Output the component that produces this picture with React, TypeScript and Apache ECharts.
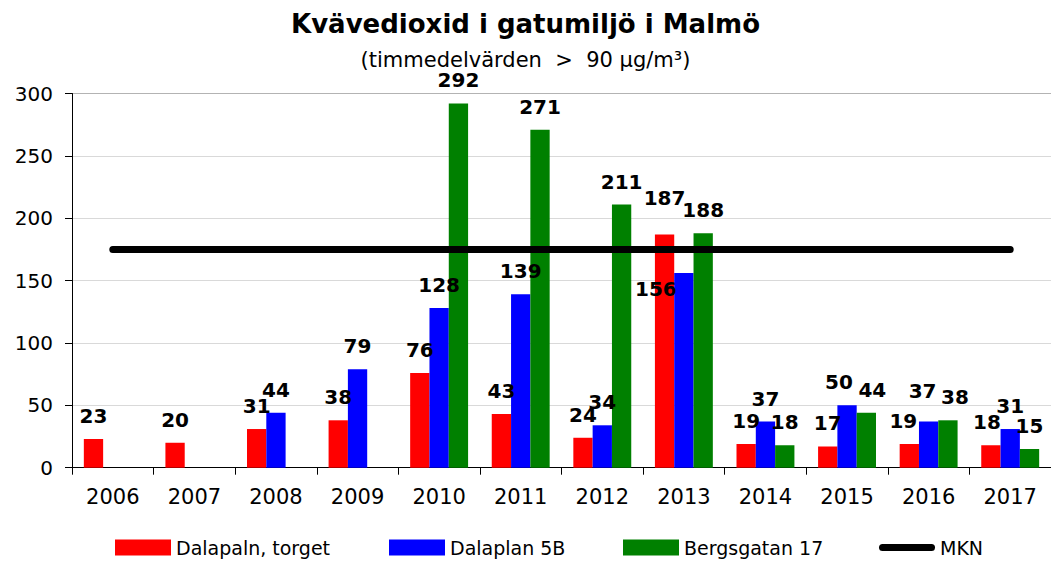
import React, { useEffect, useRef } from "react";
import * as echarts from "echarts";

const years = ["2006", "2007", "2008", "2009", "2010", "2011", "2012", "2013", "2014", "2015", "2016", "2017"];
const dalaplanTorget = [23, 20, 31, 38, 76, 43, 24, 187, 19, 17, 19, 18];
const dalaplan5B: (number | string)[] = ["-", "-", 44, 79, 128, 139, 34, 156, 37, 50, 37, 31];
const bergsgatan17: (number | string)[] = ["-", "-", "-", "-", 292, 271, 211, 188, 18, 44, 38, 15];
const mkn = [175, 175, 175, 175, 175, 175, 175, 175, 175, 175, 175, 175];

// label nudges [dx, dy] for a few labels moved in the original
const redShift: Record<number, [number, number]> = { 7: [0, -13], 10: [-6, 0], 11: [-4, 0] };
const blueShift: Record<number, [number, number]> = { 7: [-28, 39], 9: [-8, 0], 10: [-6, -8] };
const greenShift: Record<number, [number, number]> = { 9: [6, 0], 10: [7, 0] };

const FONT = "DejaVu Sans";

function withShifts(values: (number | string)[], shifts: Record<number, [number, number]>) {
  return values.map((v, i) =>
    shifts[i] ? { value: v, label: { offset: shifts[i] } } : v
  );
}

export default function App() {
  const ref = useRef<HTMLDivElement>(null);
  useEffect(() => {
    if (!ref.current) return;
    const chart = echarts.init(ref.current, undefined, { renderer: "svg" });
    const barLabel = {
      show: true,
      position: "top",
      distance: 15,
      color: "#000",
      fontFamily: FONT,
      fontWeight: "bold",
      fontSize: 20,
      lineHeight: 16,
    };
    const legendBase = {
      top: 538,
      padding: 0,
      itemWidth: 56,
      itemHeight: 16,
      icon: "rect",
      textStyle: { fontFamily: FONT, fontSize: 19, color: "#000" },
      selectedMode: false,
    };
    chart.setOption({
      animation: false,
      backgroundColor: "#fff",
      title: [
        {
          text: "Kvävedioxid i gatumiljö i Malmö",
          left: "center",
          top: 11,
          padding: 0,
          textStyle: { fontFamily: FONT, fontWeight: "bold", fontSize: 26, color: "#000" },
        },
        {
          text: "(timmedelvärden  >  90 µg/m³)",
          left: "center",
          top: 51,
          padding: 0,
          textStyle: { fontFamily: FONT, fontWeight: "normal", fontSize: 21, lineHeight: 17, color: "#000" },
        },
      ],
      legend: [
        { ...legendBase, left: 115, data: ["Dalapaln, torget"] },
        { ...legendBase, left: 389, data: ["Dalaplan 5B"] },
        { ...legendBase, left: 623, data: ["Bergsgatan 17"] },
        {
          ...legendBase,
          left: 879,
          itemHeight: 7,
          data: [
            {
              name: "MKN",
              icon: "path://M3.5,0 L52.5,0 A3.5,3.5 0 0 1 52.5,7 L3.5,7 A3.5,3.5 0 0 1 3.5,0 Z",
            },
          ],
        },
      ],
      grid: { left: 72, right: -3, top: 93.5, bottom: 93.3, containLabel: false },
      xAxis: {
        type: "category",
        data: years,
        axisLine: { show: true, lineStyle: { color: "#000", width: 1 } },
        axisTick: { show: true, length: 7, lineStyle: { color: "#000" } },
        axisLabel: { fontFamily: FONT, fontSize: 21, color: "#000", margin: 19 },
      },
      yAxis: {
        type: "value",
        min: 0,
        max: 300,
        interval: 50,
        axisLine: { show: true, lineStyle: { color: "#000", width: 1 } },
        axisTick: { show: true, length: 7, lineStyle: { color: "#000" } },
        axisLabel: { fontFamily: FONT, fontSize: 20, color: "#000", margin: 19 },
        splitLine: {
          show: true,
          lineStyle: {
            color: ["#d9d9d9", "#d9d9d9", "#d9d9d9", "#d9d9d9", "#d9d9d9", "#d9d9d9", "#b3b3b3"],
            width: [1],
          },
        },
      },
      series: [
        {
          name: "Dalapaln, torget",
          type: "bar",
          data: withShifts(dalaplanTorget, redShift),
          itemStyle: { color: "#ff0000" },
          barGap: "0%",
          barCategoryGap: "29%",
          label: barLabel,
        },
        {
          name: "Dalaplan 5B",
          type: "bar",
          data: withShifts(dalaplan5B, blueShift),
          itemStyle: { color: "#0000ff" },
          barGap: "0%",
          barCategoryGap: "29%",
          label: barLabel,
        },
        {
          name: "Bergsgatan 17",
          type: "bar",
          data: withShifts(bergsgatan17, greenShift),
          itemStyle: { color: "#008000" },
          barGap: "0%",
          barCategoryGap: "29%",
          label: barLabel,
        },
        {
          name: "MKN",
          type: "line",
          data: mkn,
          symbol: "none",
          z: 5,
          itemStyle: { color: "#000" },
          lineStyle: { color: "#000", width: 7, cap: "round" },
        },
      ],
    });
    return () => chart.dispose();
  }, []);
  return (
    <div
      ref={ref}
      style={{ position: "fixed", left: 0, top: 0, width: 1051, height: 561, overflow: "hidden" }}
    />
  );
}
